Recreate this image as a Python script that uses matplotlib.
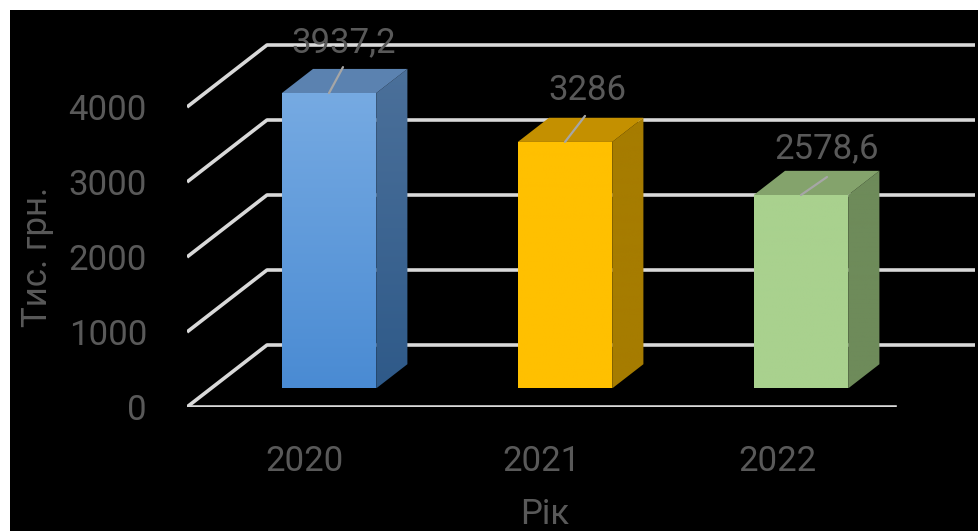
import numpy as np
import matplotlib
matplotlib.use('Agg')
import matplotlib.pyplot as plt
from matplotlib.patches import Polygon, Rectangle

plt.rcParams['font.family'] = ['Roboto', 'DejaVu Sans']

# дані
years = ['2020', '2021', '2022']
values = [3937.2, 3286, 2578.6]
value_labels = ['3937,2', '3286', '2578,6']
yticks = [0, 1000, 2000, 3000, 4000]

# кольори граней: фронт (верх, низ), бік (верх, низ), верх
face_colors = [
    (('#76aae2', '#4a8bd3'), ('#4b709a', '#2f5a89'), '#5b82b0'),
    (('#ffc000', '#ffc000'), ('#a67c00', '#a67c00'), '#c49000'),
    (('#a9d18e', '#a9d18e'), ('#6e8b5a', '#6e8b5a'), '#84a36c'),
]
label_offsets = [(15, 41), (22, 42), (26, 37)]     # px від верху фронту
leader_ends = [(14, 26), (20, 26), (26, 18)]

TXT = '#595959'
GRID = '#d9d9d9'

W, H = 979, 531
fig = plt.figure(figsize=(W / 100, H / 100), dpi=100, facecolor='white')
fig.add_artist(Rectangle((10 / W, 0), 1, (H - 10) / H, transform=fig.transFigure,
                         facecolor='black', edgecolor='none', zorder=-10))

# осі: 1 категорія = 236 px, 1000 = 75 px
px_cat, px_val = 236, 0.075
x0, x1 = -0.5, 2.85
left_px = 305 + x0 * px_cat
right_px = 305 + x1 * px_cat
bottom_px, top_px = 407, 10
ax = fig.add_axes([left_px / W, (H - bottom_px) / H,
                   (right_px - left_px) / W, (bottom_px - top_px) / H])
ymax = (bottom_px - top_px) / px_val
ax.set_facecolor('none')

# коса проекція глибини
ddx = 80 / px_cat
ddy = 62 / px_val


def P(c, v, d):
    return (c + d * ddx, v + d * ddy)


# сітка
for v in yticks:
    pts = [P(-0.5, v, 0), P(-0.5, v, 1), P(2.5, v, 1)]
    ax.plot(*zip(*pts), color=GRID, lw=2.6, solid_capstyle='butt', zorder=1)
ax.plot(*zip(P(-0.5, 0, 0), P(2.5, 0, 0)), color=GRID, lw=2.6, zorder=1)


def grad_poly(pts, top, bottom, z):
    poly = Polygon(pts, closed=True, facecolor='none', edgecolor='none')
    ax.add_patch(poly)
    xs = [p[0] for p in pts]
    ys = [p[1] for p in pts]
    c1 = np.array(matplotlib.colors.to_rgb(top))
    c2 = np.array(matplotlib.colors.to_rgb(bottom))
    t = np.linspace(0, 1, 64)[:, None]
    img = (c1 * (1 - t) + c2 * t)[:, None, :]
    im = ax.imshow(img, extent=[min(xs), max(xs), min(ys), max(ys)],
                   origin='upper', aspect='auto', interpolation='bilinear', zorder=z)
    im.set_clip_path(poly)


bw = 0.40
d0, d1 = 0.3, 0.69
for i, (v, cols) in enumerate(zip(values, face_colors)):
    (ft, fb), (st, sb), tc = cols
    a, b = i - bw / 2, i + bw / 2
    front = [P(a, 0, d0), P(b, 0, d0), P(b, v, d0), P(a, v, d0)]
    side = [P(b, 0, d0), P(b, 0, d1), P(b, v, d1), P(b, v, d0)]
    top = [P(a, v, d0), P(b, v, d0), P(b, v, d1), P(a, v, d1)]
    grad_poly(side, st, sb, 3)
    ax.add_patch(Polygon(top, closed=True, facecolor=tc, edgecolor='none', zorder=3))
    grad_poly(front, ft, fb, 4)

    xy = P(i, v, d0)
    ox, oy = label_offsets[i]
    ax.annotate(value_labels[i], xy=xy, xytext=(ox * 0.72, oy * 0.72),
                textcoords='offset points', ha='center', va='baseline',
                fontsize=25, color=TXT, zorder=6)
    lx, ly = leader_ends[i]
    ax.annotate('', xy=xy, xytext=(lx * 0.72, ly * 0.72), textcoords='offset points',
                arrowprops=dict(arrowstyle='-', color='#a6a6a6', lw=1.6,
                                shrinkA=0, shrinkB=0), zorder=6)

ax.set_xlim(x0, x1)
ax.set_ylim(0, ymax)
ax.set_xticks(range(len(years)))
ax.set_xticklabels(years)
ax.set_yticks(yticks)
ax.set_yticklabels([str(t) for t in yticks])
ax.tick_params(axis='both', length=0, labelsize=25, colors=TXT)
ax.tick_params(axis='y', pad=40 * 0.72)
ax.tick_params(axis='x', pad=38 * 0.72)
for s in ax.spines.values():
    s.set_visible(False)

fig.text(545 / W, 1 - 515 / H, 'Рік', ha='center', va='center', fontsize=25, color=TXT)
fig.text(38 / W, 1 - 257 / H, 'Тис. грн.', ha='center', va='center', rotation=90,
         fontsize=25, color=TXT)

fig.savefig('out.png', dpi=100, facecolor='white')
